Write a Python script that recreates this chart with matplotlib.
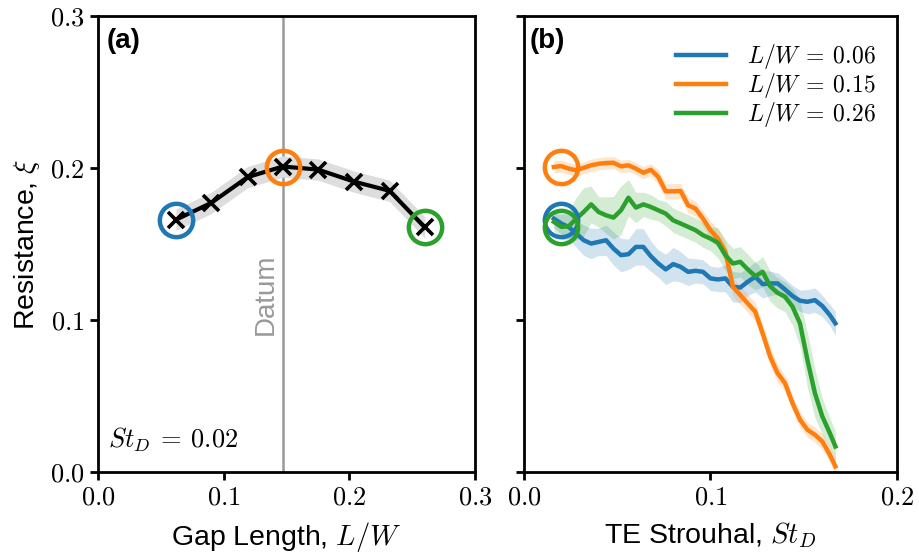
import matplotlib
matplotlib.use("Agg")
import matplotlib.pyplot as plt
from matplotlib.ticker import FuncFormatter
import numpy as np

plt.rcParams['font.family'] = ['Liberation Sans', 'DejaVu Sans']
plt.rcParams['mathtext.fontset'] = 'cm'

# ---- Panel (a) data ----
gap_LW = [0.062, 0.090, 0.119, 0.147, 0.175, 0.204, 0.232, 0.260]
gap_xi = [0.166, 0.177, 0.194, 0.201, 0.199, 0.191, 0.185, 0.161]
gap_err = [0.007, 0.007, 0.007, 0.007, 0.007, 0.007, 0.007, 0.007]
datum_LW = 0.147
St_fixed = 0.02

# ---- Panel (b) data ----
St = [0.016, 0.020, 0.024, 0.028, 0.032, 0.036, 0.040, 0.044, 0.048, 0.052,
      0.056, 0.060, 0.064, 0.068, 0.072, 0.076, 0.080, 0.084, 0.088, 0.092,
      0.096, 0.100, 0.104, 0.108, 0.112, 0.116, 0.120, 0.124, 0.128, 0.132,
      0.136, 0.140, 0.144, 0.148, 0.152, 0.156, 0.160, 0.164, 0.167]

xi_006 = [0.1667, 0.1635, 0.1612, 0.1569, 0.1525, 0.1503, 0.1514, 0.1525, 0.1470, 0.1427,
          0.1433, 0.1481, 0.1481, 0.1420, 0.1372, 0.1333, 0.1368, 0.1350, 0.1317, 0.1324,
          0.1317, 0.1274, 0.1267, 0.1274, 0.1219, 0.1214, 0.1252, 0.1284, 0.1236, 0.1241,
          0.1241, 0.1201, 0.1158, 0.1127, 0.1120, 0.1131, 0.1092, 0.1033, 0.0978]
err_006 = [0.006, 0.007, 0.008, 0.009, 0.010, 0.010, 0.009, 0.010, 0.011, 0.011,
           0.010, 0.012, 0.012, 0.010, 0.009, 0.010, 0.011, 0.010, 0.009, 0.008,
           0.008, 0.008, 0.008, 0.009, 0.010, 0.010, 0.009, 0.010, 0.009, 0.008,
           0.007, 0.007, 0.007, 0.007, 0.008, 0.008, 0.007, 0.007, 0.008]

xi_015 = [0.2007, 0.2013, 0.1996, 0.1985, 0.2002, 0.2018, 0.2028, 0.2033, 0.2035, 0.2011,
          0.2018, 0.1996, 0.1969, 0.1989, 0.1941, 0.1847, 0.1847, 0.1849, 0.1755, 0.1733,
          0.1667, 0.1591, 0.1536, 0.1449, 0.1219, 0.1164, 0.1109, 0.1055, 0.0912, 0.0759,
          0.0650, 0.0584, 0.0453, 0.0344, 0.0278, 0.0245, 0.0201, 0.0114, 0.0037]
err_015 = [0.004, 0.004, 0.004, 0.004, 0.004, 0.004, 0.004, 0.004, 0.004, 0.004,
           0.004, 0.004, 0.004, 0.004, 0.005, 0.005, 0.005, 0.005, 0.005, 0.005,
           0.005, 0.006, 0.006, 0.007, 0.006, 0.006, 0.006, 0.006, 0.006, 0.006,
           0.006, 0.005, 0.005, 0.005, 0.005, 0.005, 0.005, 0.005, 0.005]

xi_026 = [0.1646, 0.1613, 0.1617, 0.1667, 0.1711, 0.1761, 0.1711, 0.1689, 0.1674, 0.1722,
          0.1805, 0.1740, 0.1761, 0.1744, 0.1722, 0.1700, 0.1656, 0.1635, 0.1613, 0.1591,
          0.1558, 0.1536, 0.1508, 0.1427, 0.1372, 0.1383, 0.1333, 0.1289, 0.1317, 0.1223,
          0.1179, 0.1153, 0.1088, 0.0978, 0.0737, 0.0519, 0.0365, 0.0256, 0.0168]
err_026 = [0.006, 0.008, 0.010, 0.014, 0.016, 0.012, 0.010, 0.012, 0.014, 0.016,
           0.012, 0.010, 0.008, 0.008, 0.007, 0.008, 0.008, 0.008, 0.008, 0.008,
           0.008, 0.008, 0.010, 0.010, 0.010, 0.010, 0.010, 0.009, 0.010, 0.010,
           0.010, 0.010, 0.012, 0.015, 0.018, 0.016, 0.012, 0.010, 0.010]

labels = [r'$L/W\:=\:0.06$', r'$L/W\:=\:0.15$', r'$L/W\:=\:0.26$']
colors = ['#1f77b4', '#ff7f0e', '#2ca02c']
highlight_idx = [0, 3, 7]

fig = plt.figure(figsize=(9.19, 5.55), dpi=100)
axa = fig.add_axes([0.1066, 0.1495, 0.4103, 0.8216])
axb = fig.add_axes([0.5702, 0.1495, 0.4058, 0.8216])

fmt = FuncFormatter(lambda v, p: r'$%.1f$' % v)

# Panel (a)
ga = np.array(gap_LW); gx = np.array(gap_xi); ge = np.array(gap_err)
axa.axvline(datum_LW, color='#999999', lw=1.8, zorder=1)
axa.fill_between(ga, gx - ge, gx + ge, color='#dddddd', lw=0, zorder=2)
axa.plot(ga, gx, color='black', lw=3.0, marker='x', ms=12, mew=2.6, zorder=3)
for c, i in zip(colors, highlight_idx):
    axa.plot(gap_LW[i], gap_xi[i], 'o', ms=24, mfc='none', mec=c, mew=3.2, zorder=4)
axa.text(datum_LW - 0.003, 0.117, 'Datum', rotation=90, color='#999999',
         fontsize=20, ha='right', va='center')
axa.text(0.026, 0.07, r'$St_D\:=\:0.02$', transform=axa.transAxes, fontsize=19,
         ha='left', va='center')
axa.text(0.022, 0.945, '(a)', transform=axa.transAxes, fontsize=20,
         fontweight='bold', ha='left', va='center')
axa.set_xlim(0, 0.3)
axa.set_ylim(0, 0.3)
axa.set_xticks([0.0, 0.1, 0.2, 0.3])
axa.set_yticks([0.0, 0.1, 0.2, 0.3])
axa.xaxis.set_major_formatter(fmt)
axa.yaxis.set_major_formatter(fmt)
axa.set_xlabel(r'Gap Length, $L/W$', fontsize=20.5, labelpad=8)
axa.set_ylabel(r'Resistance, $\xi$', fontsize=20.5, labelpad=6)

# Panel (b)
S = np.array(St)
for y, e, c, lab in zip([xi_006, xi_015, xi_026], [err_006, err_015, err_026], colors, labels):
    y = np.array(y); e = np.array(e)
    axb.fill_between(S, y - e, y + e, color=c, alpha=0.2, lw=0)
    axb.plot(S, y, color=c, lw=3.2, label=lab)
for c, i in zip(colors, highlight_idx):
    axb.plot(St_fixed, gap_xi[i], 'o', ms=24, mfc='none', mec=c, mew=3.2, zorder=4)
axb.text(0.016, 0.945, '(b)', transform=axb.transAxes, fontsize=20,
         fontweight='bold', ha='left', va='center')
axb.set_xlim(0, 0.2)
axb.set_ylim(0, 0.3)
axb.set_xticks([0.0, 0.1, 0.2])
axb.set_yticks([0.0, 0.1, 0.2, 0.3])
axb.xaxis.set_major_formatter(fmt)
axb.set_yticklabels([])
axb.set_xlabel(r'TE Strouhal, $St_D$', fontsize=20.5, labelpad=8)
leg = axb.legend(loc='upper right', frameon=False, fontsize=17, handlelength=2.1,
                 handletextpad=0.9, labelspacing=0.0, bbox_to_anchor=(1.0, 0.99))
for ln in leg.get_lines():
    ln.set_linewidth(3.2)

for ax in (axa, axb):
    for s in ax.spines.values():
        s.set_linewidth(2.0)
    ax.tick_params(width=2.0, length=6, labelsize=19, direction='out')

fig.savefig('out.png', dpi=100)
